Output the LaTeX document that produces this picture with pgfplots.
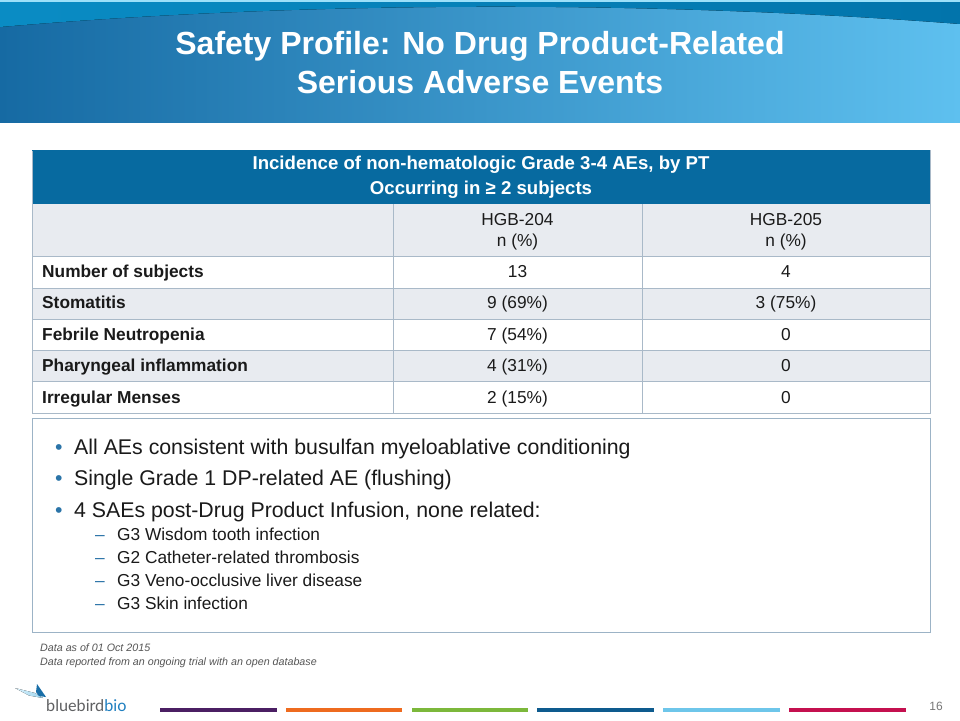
\documentclass[border=0pt]{standalone}
\usepackage{pgfplots}
\pgfplotsset{compat=1.18}
\usepackage{fontspec}
\setmainfont{Liberation Sans}
\newfontfamily\logofont{Lato}
\definecolor{bandL}{HTML}{166AA3}
\definecolor{bandR}{HTML}{5EC0EF}
\definecolor{arcL}{HTML}{0A8CC4}
\definecolor{arcM}{HTML}{72D3F7}
\definecolor{arcR}{HTML}{0274AB}
\definecolor{hdr}{HTML}{076AA0}
\definecolor{rowgray}{HTML}{E8EBF0}
\definecolor{gridc}{HTML}{A9B9C8}
\definecolor{boxc}{HTML}{9CB3C6}
\definecolor{bulc}{HTML}{2B74A8}
\definecolor{txt}{HTML}{1A1A1A}
\definecolor{foot}{HTML}{555555}
\definecolor{cPurple}{HTML}{4B1F63}
\definecolor{cOrange}{HTML}{EE6B1F}
\definecolor{cGreen}{HTML}{7CB83B}
\definecolor{cDBlue}{HTML}{0E5B8E}
\definecolor{cLBlue}{HTML}{6EC6EA}
\definecolor{cMag}{HTML}{C4104F}
\definecolor{logoG}{HTML}{5F6062}
\definecolor{logoB}{HTML}{1F7FC0}
\definecolor{wing}{HTML}{1A6FA8}
\definecolor{tail}{HTML}{9ED6F0}
\tikzset{
  cell/.style={anchor=base, inner sep=0pt, text=txt, font=\fontsize{17.3}{20}\selectfont},
  rowlab/.style={anchor=base west, inner sep=0pt, text=txt, font=\fontsize{17.3}{20}\selectfont\bfseries},
  bul/.style={anchor=base west, inner sep=0pt, text=bulc, font=\fontsize{21.3}{25}\selectfont},
  bultxt/.style={anchor=base west, inner sep=0pt, text=txt, font=\fontsize{21.3}{25}\selectfont},
  sub/.style={anchor=base west, inner sep=0pt, text=bulc, font=\fontsize{17.3}{20}\selectfont},
  subtxt/.style={anchor=base west, inner sep=0pt, text=txt, font=\fontsize{17.3}{20}\selectfont},
  hl/.style={gridc, line width=1pt},
}
\begin{document}
\begin{tikzpicture}
\begin{axis}[scale only axis, width=960pt, height=720pt,
  xmin=0, xmax=960, ymin=0, ymax=720, y dir=reverse,
  hide axis, clip=false]
% page background
\path[fill=white] (axis cs:0,0) rectangle (axis cs:960,720);
% header band
\fill[left color=bandL, right color=bandR] (axis cs:0,0) rectangle (axis cs:960,122);
\fill[left color=arcL, middle color=arcM, right color=arcR]
  (axis cs:0,0) -- (axis cs:0,27) .. controls (axis cs:300,1) and (axis cs:650,0) .. (axis cs:960,24) -- (axis cs:960,0) -- cycle;
\fill[color=arcM!70!white] (axis cs:0,0) rectangle (axis cs:960,1.5);
% title
\node[anchor=base, text=white, font=\fontsize{32}{38}\selectfont\bfseries] at (axis cs:480,54) {Safety Profile: No Drug Product-Related};
\node[anchor=base, text=white, font=\fontsize{32}{38}\selectfont\bfseries] at (axis cs:480,93) {Serious Adverse Events};
% table fills
\fill[hdr] (axis cs:32,150) rectangle (axis cs:930,204);
\fill[rowgray] (axis cs:32,204) rectangle (axis cs:930,256);
\fill[rowgray] (axis cs:32,288) rectangle (axis cs:930,319);
\fill[rowgray] (axis cs:32,350) rectangle (axis cs:930,381);
% grid
\draw[hl] (axis cs:32,256) -- (axis cs:930,256);
\draw[hl] (axis cs:32,288) -- (axis cs:930,288);
\draw[hl] (axis cs:32,319) -- (axis cs:930,319);
\draw[hl] (axis cs:32,350) -- (axis cs:930,350);
\draw[hl] (axis cs:32,381) -- (axis cs:930,381);
\draw[hl] (axis cs:393,204) -- (axis cs:393,413);
\draw[hl] (axis cs:642,204) -- (axis cs:642,413);
\draw[hl] (axis cs:32,150) rectangle (axis cs:930,413);
\draw[hdr, line width=1pt] (axis cs:32,150) -- (axis cs:930,150);
% header text
\node[anchor=base, text=white, font=\fontsize{18.6}{22}\selectfont\bfseries] at (axis cs:481,169.5) {Incidence of non-hematologic Grade 3-4 AEs, by PT};
\node[anchor=base, text=white, font=\fontsize{18.6}{22}\selectfont\bfseries] at (axis cs:481,194.5) {Occurring in ≥ 2 subjects};
\node[cell] at (axis cs:517.5,225) {HGB-204};
\node[cell] at (axis cs:517.5,246) {n (\%)};
\node[cell] at (axis cs:786,225) {HGB-205};
\node[cell] at (axis cs:786,246) {n (\%)};
% rows
\node[rowlab] at (axis cs:42,277.5) {Number of subjects};
\node[cell] at (axis cs:517.5,277.5) {13};
\node[cell] at (axis cs:786,277.5) {4};
\node[rowlab] at (axis cs:42,308.5) {Stomatitis};
\node[cell] at (axis cs:517.5,308.5) {9 (69\%)};
\node[cell] at (axis cs:786,308.5) {3 (75\%)};
\node[rowlab] at (axis cs:42,340) {Febrile Neutropenia};
\node[cell] at (axis cs:517.5,340) {7 (54\%)};
\node[cell] at (axis cs:786,340) {0};
\node[rowlab] at (axis cs:42,371) {Pharyngeal inflammation};
\node[cell] at (axis cs:517.5,371) {4 (31\%)};
\node[cell] at (axis cs:786,371) {0};
\node[rowlab] at (axis cs:42,403) {Irregular Menses};
\node[cell] at (axis cs:517.5,403) {2 (15\%)};
\node[cell] at (axis cs:786,403) {0};
% bullet box
\draw[boxc, line width=1pt] (axis cs:32,418) rectangle (axis cs:930,632);
\node[bul] at (axis cs:55,454.5) {•};
\node[bultxt] at (axis cs:74,454.5) {All AEs consistent with busulfan myeloablative conditioning};
\node[bul] at (axis cs:55,485.5) {•};
\node[bultxt] at (axis cs:74,485.5) {Single Grade 1 DP-related AE (flushing)};
\node[bul] at (axis cs:55,517.5) {•};
\node[bultxt] at (axis cs:74,517.5) {4 SAEs post-Drug Product Infusion, none related:};
\node[sub] at (axis cs:95,540) {–};
\node[subtxt] at (axis cs:117,540) {G3 Wisdom tooth infection};
\node[sub] at (axis cs:95,563) {–};
\node[subtxt] at (axis cs:117,563) {G2 Catheter-related thrombosis};
\node[sub] at (axis cs:95,586) {–};
\node[subtxt] at (axis cs:117,586) {G3 Veno-occlusive liver disease};
\node[sub] at (axis cs:95,609) {–};
\node[subtxt] at (axis cs:117,609) {G3 Skin infection};
% footnotes
\node[anchor=base west, inner sep=0pt, text=foot, font=\fontsize{10.7}{13}\selectfont\itshape] at (axis cs:40,651) {Data as of 01 Oct 2015};
\node[anchor=base west, inner sep=0pt, text=foot, font=\fontsize{10.7}{13}\selectfont\itshape] at (axis cs:40,665) {Data reported from an ongoing trial with an open database};
% logo
\fill[left color=tail!40!white, right color=tail] (axis cs:15,688) -- (axis cs:35,693) -- (axis cs:43,698) -- (axis cs:29,695.5) -- cycle;
\fill[wing] (axis cs:37,684) -- (axis cs:46,697) -- (axis cs:39,696) -- (axis cs:36,692) -- cycle;
\node[anchor=base west, inner sep=0pt, font=\fontsize{16.2}{19}\selectfont\logofont] at (axis cs:46,711.5) {\textcolor{logoG}{bluebird}\textcolor{logoB}{bio}};
% colour bars
\fill[cPurple] (axis cs:160,707.5) rectangle (axis cs:277,711.5);
\fill[cOrange] (axis cs:286,707.5) rectangle (axis cs:402,711.5);
\fill[cGreen] (axis cs:412,707.5) rectangle (axis cs:528,711.5);
\fill[cDBlue] (axis cs:537,707.5) rectangle (axis cs:654,711.5);
\fill[cLBlue] (axis cs:663,707.5) rectangle (axis cs:780,711.5);
\fill[cMag] (axis cs:789,707.5) rectangle (axis cs:906,711.5);
% page number
\node[anchor=base, inner sep=0pt, text=foot!80!white, font=\fontsize{12}{14}\selectfont] at (axis cs:936,710) {16};
\end{axis}
\end{tikzpicture}
\end{document}
